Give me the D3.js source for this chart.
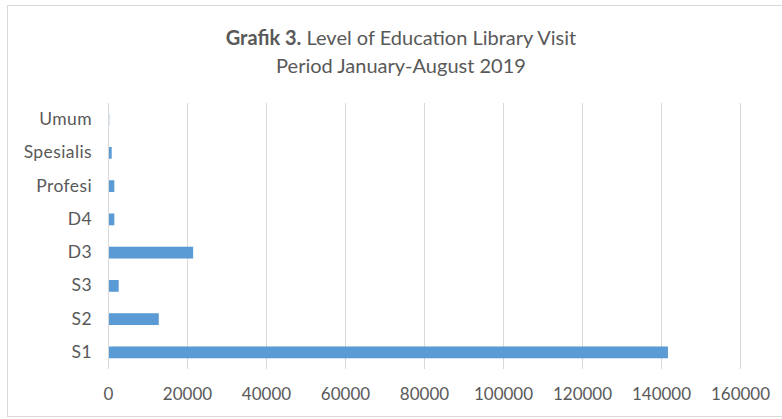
<!DOCTYPE html>
<html><head><meta charset="utf-8">
<script src="https://cdn.jsdelivr.net/npm/d3@7"></script>
<style>body{margin:0;background:#fff}svg{display:block}text{font-family:Lato,"Open Sans",sans-serif;fill:#595959}</style>
</head><body><div id="c"></div>
<script>
const categories = ["S1","S2","S3","D3","D4","Profesi","Spesialis","Umum"];
const values = [141500, 12600, 2450, 21300, 1350, 1350, 680, 60];
const ticks = [0,20000,40000,60000,80000,100000,120000,140000,160000];

const W=782,H=419;
const svg=d3.select("#c").append("svg").attr("width",W).attr("height",H);
svg.append("rect").attr("x",7.5).attr("y",5.5).attr("width",800).attr("height",411).attr("fill","none").attr("stroke","#d9d9d9");

const x=d3.scaleLinear().domain([0,160000]).range([108,740]);
const y=d3.scaleBand().domain(categories.slice().reverse()).range([103,369]).paddingInner(0.645).paddingOuter(0.3225);

svg.append("g").selectAll("line").data(ticks).join("line")
 .attr("x1",d=>x(d)+0.5).attr("x2",d=>x(d)+0.5).attr("y1",103).attr("y2",369)
 .attr("stroke","#d9d9d9").attr("stroke-width",1);

svg.append("g").selectAll("rect").data(categories).join("rect")
 .attr("x",x(0)+1).attr("y",(d)=>y(d)).attr("height",y.bandwidth())
 .attr("width",(d,i)=>Math.max(0,x(values[i])-x(0)))
 .attr("fill","#5b9bd5");

const xa=d3.axisBottom(x).tickValues(ticks).tickSize(0).tickPadding(0).tickFormat(d3.format("d"));
const gx=svg.append("g").attr("transform","translate(0,400)").call(xa);
gx.select(".domain").remove();
gx.selectAll("text").attr("font-size",17).attr("dy","0").style("font-family","Lato,sans-serif").attr("fill","#595959");

const ya=d3.axisLeft(y).tickSize(0).tickPadding(0);
const gy=svg.append("g").attr("transform","translate(92,0)").call(ya);
gy.select(".domain").remove();
gy.selectAll("text").attr("font-size",17.5).style("font-family","Lato,sans-serif").style("letter-spacing","0.4px").attr("fill","#595959");

const t=svg.append("text").attr("x",401).attr("y",45).attr("text-anchor","middle").attr("font-size",20);
t.append("tspan").attr("font-weight","bold").text("Grafik 3.");
t.append("tspan").text(" Level of Education Library Visit");
svg.append("text").attr("x",401).attr("y",73).attr("text-anchor","middle").attr("font-size",20).text("Period January-August 2019");
</script></body></html>
